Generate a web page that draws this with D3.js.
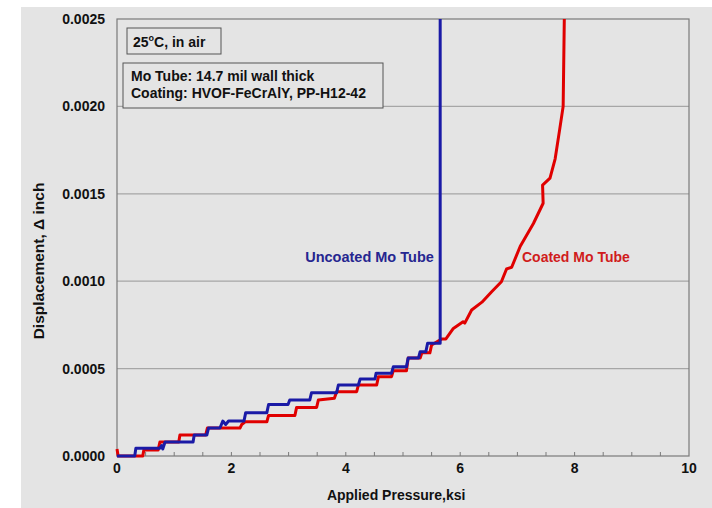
<!DOCTYPE html>
<html>
<head>
<meta charset="utf-8">
<script src="https://cdn.jsdelivr.net/npm/d3@7"></script>
<style>
  body { margin: 0; background: #fff; }
  text { font-family: "Liberation Sans", Arial, sans-serif; font-weight: bold; }
</style>
</head>
<body>
<svg width="712" height="508"></svg>
<script>
// data: [pressure ksi, displacement inch]
var uncoated = [
  [0,0],[0.31,0],[0.33,0.000045],[0.75,0.000045],[0.78,0.00006],[0.8,0.00004],[0.84,0.00008],
  [1.33,0.00008],[1.35,0.00012],[1.57,0.00012],[1.6,0.00016],[1.8,0.00016],[1.85,0.0002],
  [1.9,0.00018],[1.95,0.0002],[2.22,0.0002],[2.25,0.000248],[2.62,0.000248],[2.65,0.000295],
  [2.99,0.000295],[3.02,0.00032],[3.37,0.00032],[3.4,0.000362],[3.84,0.000362],[3.87,0.000406],
  [4.22,0.000406],[4.25,0.00044],[4.51,0.00044],[4.53,0.000474],[4.8,0.000474],[4.83,0.00051],
  [5.06,0.00051],[5.09,0.00056],[5.27,0.00056],[5.3,0.000597],[5.4,0.000597],[5.43,0.000645],
  [5.65,0.000645],[5.65,0.0025]
];
var coated = [
  [0,0.00004],[0.02,0],[0.45,0],[0.47,0.000035],[0.72,0.000035],[0.75,0.00008],[1.08,0.00008],
  [1.1,0.00012],[1.55,0.00012],[1.58,0.00016],[2.15,0.00016],[2.18,0.00018],[2.24,0.000196],
  [2.62,0.000196],[2.65,0.000232],[3.11,0.000232],[3.14,0.000278],[3.49,0.000278],[3.52,0.00032],
  [3.8,0.00033],[3.84,0.000368],[4.19,0.000368],[4.22,0.000406],[4.54,0.000406],[4.57,0.000454],
  [4.8,0.000454],[4.83,0.000488],[5.06,0.000488],[5.09,0.00056],[5.3,0.00056],[5.33,0.00059],
  [5.47,0.00059],[5.5,0.000635],[5.68,0.00067],[5.75,0.00067],[5.88,0.00073],[6.05,0.000768],
  [6.08,0.00076],[6.2,0.000835],[6.38,0.00088],[6.55,0.00094],[6.72,0.000997],[6.81,0.00107],
  [6.9,0.00108],[7.05,0.0012],[7.28,0.00133],[7.45,0.001446],[7.44,0.00155],[7.57,0.00159],
  [7.66,0.0017],[7.74,0.00187],[7.8,0.002],[7.82,0.0025]
];
var xTicks = [0, 2, 4, 6, 8, 10];
var yTicks = [0, 0.0005, 0.001, 0.0015, 0.002, 0.0025];
var notes = ["Mo Tube: 14.7 mil wall thick", "Coating: HVOF-FeCrAlY, PP-H12-42"];

var svg = d3.select("svg"),
  margin = {top: 19, right: 23, bottom: 52, left: 117},
  width = 712 - margin.left - margin.right,
  height = 508 - margin.top - margin.bottom;

// gray panel
svg.append("rect").attr("x", 21).attr("y", 7).attr("width", 691).attr("height", 501).attr("fill", "#e4e4e4");

var g = svg.append("g").attr("transform", "translate(" + margin.left + "," + margin.top + ")");

var x = d3.scaleLinear().domain([0, 10]).range([0, width]);
var y = d3.scaleLinear().domain([0, 0.0025]).range([height, 0]);

// grid
g.selectAll(".grid").data(yTicks.slice(1, -1)).enter().append("line")
  .attr("x1", 0).attr("x2", width)
  .attr("y1", d => y(d)).attr("y2", d => y(d))
  .attr("stroke", "#a6a6a6").attr("stroke-width", 1.2);

g.append("rect").attr("width", width).attr("height", height)
  .attr("fill", "none").attr("stroke", "#7a7a7a").attr("stroke-width", 1.2);

// minor ticks on x axis
g.selectAll(".mt").data(d3.range(0.5, 10, 0.5)).enter().append("line")
  .attr("x1", d => x(d)).attr("x2", d => x(d))
  .attr("y1", height).attr("y2", height - 4)
  .attr("stroke", "#7a7a7a");

// tick labels
g.selectAll(".xl").data(xTicks).enter().append("text")
  .attr("x", d => x(d)).attr("y", height + 17)
  .attr("text-anchor", "middle").attr("font-size", 14).attr("fill", "#111")
  .text(d => d);
g.selectAll(".yl").data(yTicks).enter().append("text")
  .attr("x", -12).attr("y", d => y(d)).attr("dy", "0.35em")
  .attr("text-anchor", "end").attr("font-size", 14).attr("fill", "#111")
  .text(d => d3.format(".4f")(d));

// axis titles
g.append("text").attr("x", x(4.88)).attr("y", height + 44)
  .attr("text-anchor", "middle").attr("font-size", 14).attr("fill", "#111")
  .text("Applied Pressure,ksi");
svg.append("text").attr("transform", "translate(44,261) rotate(-90)")
  .attr("text-anchor", "middle").attr("font-size", 15.5).attr("fill", "#111")
  .text("Displacement, \u0394 inch");

// curves
var line = d3.line().x(d => x(d[0])).y(d => y(d[1]));
g.append("path").datum(coated).attr("d", line)
  .attr("fill", "none").attr("stroke", "#e00000").attr("stroke-width", 3).attr("stroke-linejoin", "round");
g.append("path").datum(uncoated).attr("d", line)
  .attr("fill", "none").attr("stroke", "#1a1aa6").attr("stroke-width", 3).attr("stroke-linejoin", "round");

// labels on curves
g.append("text").attr("x", x(3.29)).attr("y", y(0.00111))
  .attr("font-size", 14.5).attr("fill", "#262690").text("Uncoated Mo Tube");
g.append("text").attr("x", x(7.08)).attr("y", y(0.00111))
  .attr("font-size", 14).attr("fill", "#d01c1c").text("Coated Mo Tube");

// note boxes
svg.append("rect").attr("x", 127).attr("y", 28).attr("width", 94).attr("height", 26)
  .attr("fill", "#e4e4e4").attr("stroke", "#555").attr("stroke-width", 1);
var t1 = svg.append("text").attr("x", 133).attr("y", 47).attr("font-size", 14).attr("fill", "#111");
t1.append("tspan").text("25");
t1.append("tspan").attr("font-size", 9).attr("dy", -6).text("o");
t1.append("tspan").attr("dy", 6).text("C, in air");

svg.append("rect").attr("x", 123).attr("y", 63).attr("width", 260).attr("height", 45)
  .attr("fill", "#e4e4e4").attr("stroke", "#555").attr("stroke-width", 1);
svg.selectAll(".note").data(notes).enter().append("text")
  .attr("x", 131).attr("y", (d, i) => 81 + i * 17)
  .attr("font-size", 14).attr("fill", "#111").text(d => d);
</script>
</body>
</html>
